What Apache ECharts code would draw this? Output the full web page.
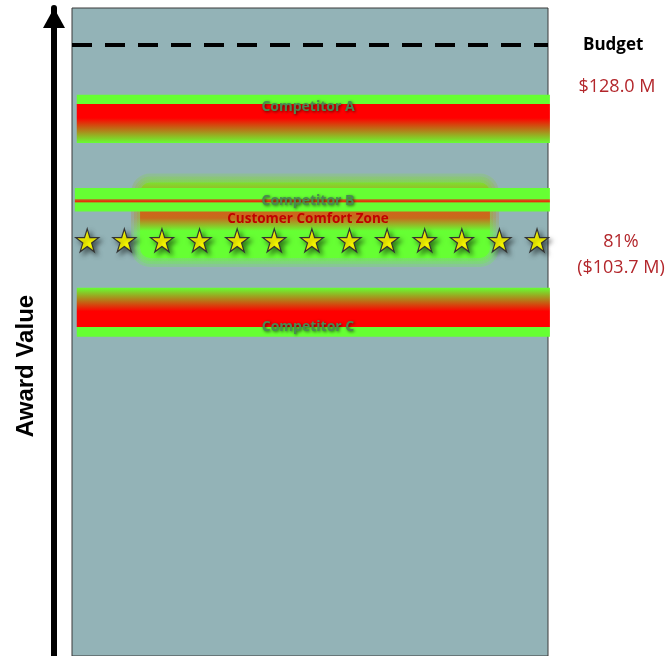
<!DOCTYPE html>
<html>
<head>
<meta charset="utf-8">
<script src="https://cdn.jsdelivr.net/npm/echarts@6/dist/echarts.min.js"></script>
<style>
  html, body { margin: 0; padding: 0; background: #fff; }
  #chart { width: 671px; height: 656px; }
</style>
</head>
<body>
<div id="chart"></div>
<script>
// values (millions of dollars)
const budget = 128.0;
const comfortValue = 103.7;
const competitors = ['Competitor A', 'Competitor B', 'Competitor C'];
const competitorHigh = [121.8, 110.2, 97.8];
const competitorLow = [115.8, 107.3, 91.7];
const comfortHigh = 110.9;
const comfortLow = 101.5;
const starX = [3.2, 11.0, 18.9, 26.8, 34.7, 42.5, 50.4, 58.3, 66.2, 74.1, 81.9, 89.8, 97.7];

const GREEN = '#66FF33';
const RED = '#FF0000';
const grad = (stops) => new echarts.graphic.LinearGradient(0, 0, 0, 1,
  stops.map(s => ({ offset: s[0], color: s[1] })));

// per band look: gradient + where the label sits inside the band
const bandLook = {
  'Competitor A': { x: [1.0, 100.4], stops: [[0, GREEN], [0.18, GREEN], [0.2, RED], [0.48, RED], [1, GREEN]], labelAt: 0.25 },
  'Competitor B': { x: [0.6, 100.4], stops: [[0, GREEN], [0.46, GREEN], [0.5, '#C8601C'], [0.58, '#E83008'], [0.64, GREEN], [1, GREEN]], labelAt: 0.57 },
  'Competitor C': { x: [1.0, 100.4], stops: [[0, GREEN], [0.48, RED], [0.79, RED], [0.81, GREEN], [1, GREEN]], labelAt: 0.8 }
};

const labelStyle = {
  fill: '#4A8A52',
  font: 'bold 14px "Open Sans"',
  align: 'center',
  verticalAlign: 'middle',
  textShadowColor: 'rgba(0,0,0,0.6)',
  textShadowBlur: 3,
  textShadowOffsetX: 1,
  textShadowOffsetY: 1
};

function renderBand(params, api) {
  const name = competitors[params.dataIndex];
  const look = bandLook[name];
  const p1 = api.coord([look.x[0], api.value(1)]);
  const p2 = api.coord([look.x[1], api.value(2)]);
  const h = p2[1] - p1[1];
  return {
    type: 'group',
    children: [
      { type: 'rect', shape: { x: p1[0], y: p1[1], width: p2[0] - p1[0], height: h },
        style: { fill: grad(look.stops) } },
      { type: 'text', x: 308, y: p1[1] + h * look.labelAt,
        style: Object.assign({ text: name }, labelStyle) }
    ]
  };
}

function renderComfort(params, api) {
  const p1 = api.coord([14.3, api.value(0)]);
  const p2 = api.coord([87.8, api.value(1)]);
  const w = p2[0] - p1[0];
  const h = p2[1] - p1[1];
  const fill = [[0, '#7EE02E'], [0.3, '#D2621A'], [0.47, '#C86A1C'], [0.64, GREEN], [1, GREEN]];
  // soft edge: a few fading copies around the core
  const halo = [];
  for (let k = 3; k >= 1; k--) {
    halo.push({ type: 'rect', shape: { x: p1[0] - k * 3, y: p1[1] - k * 3, width: w + k * 6, height: h + k * 6, r: 10 + k * 3 },
      style: { fill: grad(fill), opacity: 0.22 } });
  }
  return {
    type: 'group',
    children: halo.concat([
      { type: 'rect', shape: { x: p1[0], y: p1[1], width: w, height: h, r: 10 },
        style: { fill: grad(fill), shadowBlur: 10, shadowColor: 'rgba(102,255,51,0.6)' } },
      { type: 'text', x: 308, y: p1[1] + h * 0.48,
        style: { text: 'Customer Comfort Zone', fill: '#C00000', font: 'bold 13.5px "Open Sans"',
          align: 'center', verticalAlign: 'middle' } }
    ])
  };
}

const STAR = 'path://M50,0 L61.2,34.5 L97.6,34.5 L68.2,55.9 L79.4,90.5 L50,69.1 L20.6,90.5 L31.8,55.9 L2.4,34.5 L38.8,34.5 Z';

const chart = echarts.init(document.getElementById('chart'));
chart.setOption({
  animation: false,
  grid: {
    left: 72, right: 123, top: 8, bottom: 0, outerBoundsMode: 'none', containLabel: false,
    show: true, backgroundColor: '#93B3B7', borderColor: '#3a3a3a', borderWidth: 1
  },
  xAxis: { type: 'value', min: 0, max: 100, show: false },
  yAxis: {
    type: 'value', min: 52, max: 132.6, offset: 18,
    name: 'Award Value', nameLocation: 'middle', nameRotate: 90, nameGap: 16,
    nameTextStyle: { fontFamily: 'Liberation Sans', fontWeight: 'bold', fontSize: 24, color: '#000', padding: [0, 68, 0, 0] },
    axisLine: { show: true, onZero: false, symbol: ['none', 'triangle'], symbolSize: [22, 20], symbolOffset: [0, -10],
      lineStyle: { color: '#000', width: 6 } },
    axisTick: { show: false }, axisLabel: { show: false }, splitLine: { show: false }
  },
  series: [
    {
      type: 'custom', z: 1, clip: false,
      data: [[comfortHigh, comfortLow]],
      renderItem: renderComfort
    },
    {
      type: 'custom', z: 2, clip: false,
      data: competitors.map((n, i) => [i, competitorHigh[i], competitorLow[i]]),
      renderItem: renderBand
    },
    {
      type: 'scatter', z: 5, clip: false,
      symbol: STAR, symbolSize: 23,
      itemStyle: { color: '#FFFF00', borderColor: '#333', borderWidth: 1.2, opacity: 1,
        shadowColor: 'rgba(0,0,0,0.5)', shadowBlur: 5, shadowOffsetX: 3, shadowOffsetY: 3 },
      data: starX.map(x => [x, comfortValue]),
      markLine: {
        silent: true, symbol: 'none',
        lineStyle: { color: '#000', width: 4, type: [20, 13] },
        label: { show: true, position: 'end', distance: 35, formatter: 'Budget',
          color: '#000', fontWeight: 'bold', fontSize: 17, fontFamily: 'Open Sans' },
        data: [{ yAxis: budget }]
      }
    }
  ]
});

const yBudget = chart.convertToPixel({ gridIndex: 0 }, [0, budget])[1];
const yComfort = chart.convertToPixel({ gridIndex: 0 }, [0, comfortValue])[1];
const redText = (text, x, y) => ({
  type: 'text', x: x, y: y,
  style: { text: text, fill: '#B3262B', font: '18px "Open Sans"', align: 'center', verticalAlign: 'middle' }
});
chart.setOption({
  graphic: [
    redText('$' + budget.toFixed(1) + ' M', 617, yBudget + 42),
    redText(Math.round(comfortValue / budget * 100) + '%', 621, yComfort + 2),
    redText('($' + comfortValue.toFixed(1) + ' M)', 621, yComfort + 28)
  ]
});
</script>
</body>
</html>
